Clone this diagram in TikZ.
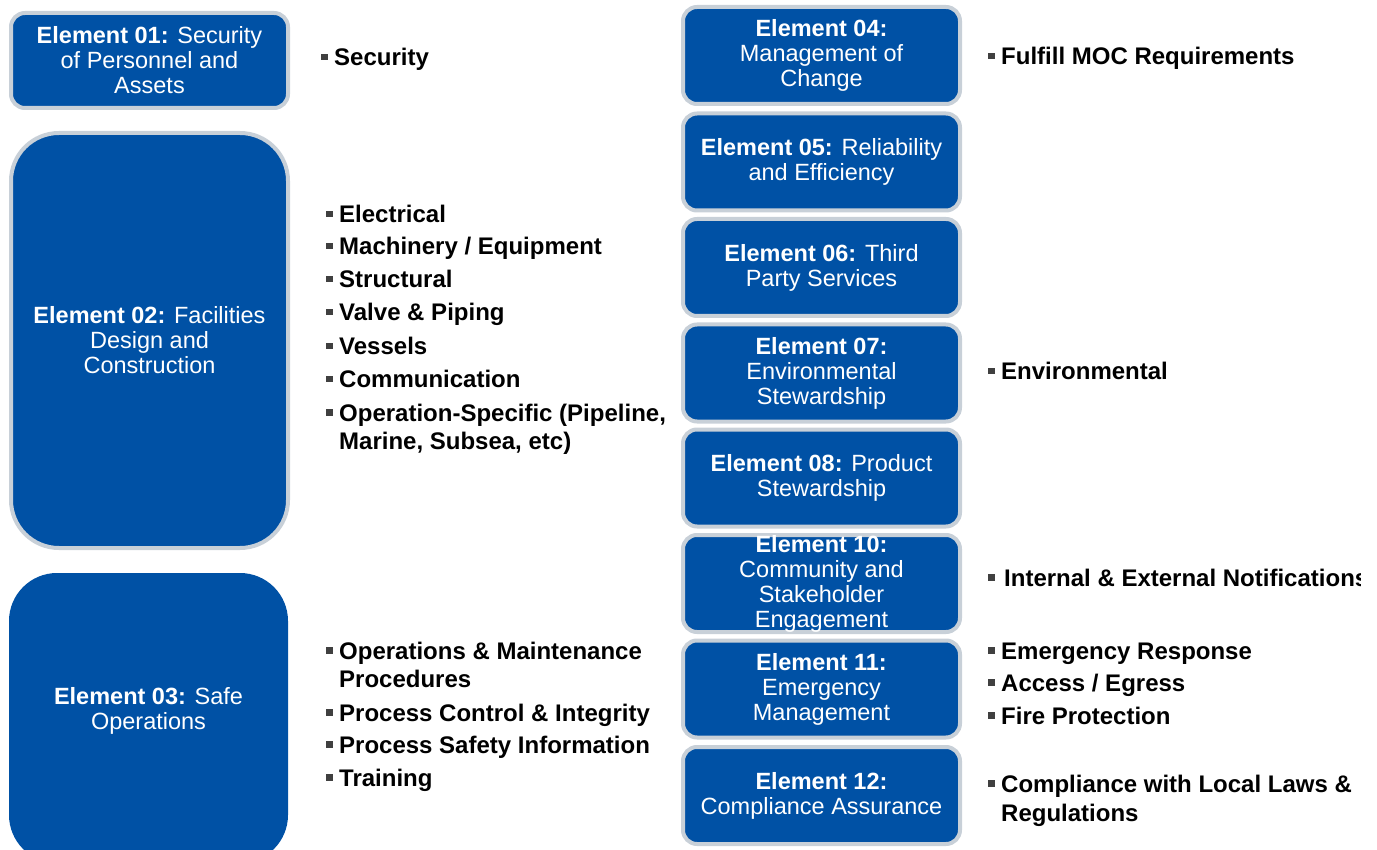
\documentclass[tikz,border=0pt]{standalone}
\usepackage{fontspec}
\setmainfont{Liberation Sans}
\definecolor{elblue}{RGB}{0,81,165}
\definecolor{elgrey}{RGB}{200,208,216}
\definecolor{bulgrey}{RGB}{64,64,64}
\newcommand{\bul}{\makebox[13pt][l]{\textcolor{bulgrey}{\rule[5.5pt]{6.5pt}{6.5pt}}}}
\newcommand{\bulb}{\makebox[16pt][l]{\textcolor{bulgrey}{\rule[5.5pt]{6.5pt}{6.5pt}}}}
\begin{document}
\begin{tikzpicture}[x=1pt,y=-1pt,
  elbox/.style={rectangle, rounded corners=14pt, fill=elblue, draw=elgrey, line width=4pt,
    text=white, align=center, inner sep=0pt, minimum width=277pt, minimum height=97pt,
    font=\fontsize{23.5}{25}\selectfont},
  bigbox/.style={elbox, rounded corners=48pt},
  item/.style={anchor=base west, inner sep=0pt, font=\bfseries\fontsize{24}{28}\selectfont}]
\useasboundingbox (0,0) rectangle (1377,850);
\clip (0,0) rectangle (1377,850);
% left column
\node[elbox, minimum height=95pt] (e01) at (149.5,60.5) {\textbf{Element 01:} Security\\of Personnel and\\Assets};
\node[bigbox, minimum height=415pt] (e02) at (149.5,340.5) {\textbf{Element 02:} Facilities\\Design and\\Construction};
\node[bigbox, draw=none, minimum width=279pt, minimum height=290pt] (e03) at (148.5,718) {};
\node[text=white, align=center, font=\fontsize{23.5}{25}\selectfont] (e03t) at (148.5,711) {\textbf{Element 03:} Safe\\Operations};
% right column
\node[elbox] (e04) at (821.5,55.5) {\textbf{Element 04:}\\Management of\\Change};
\node[elbox] (e05) at (821.5,162) {\textbf{Element 05:} Reliability\\and Efficiency};
\node[elbox] (e06) at (821.5,267.5) {\textbf{Element 06:} Third\\Party Services};
\node[elbox] (e07) at (821.5,373) {\textbf{Element 07:}\\Environmental\\Stewardship};
\node[elbox] (e08) at (821.5,478) {\textbf{Element 08:} Product\\Stewardship};
\node[elbox] (e10) at (821.5,583.5) {\textbf{Element 10:}\\Community and\\Stakeholder\\Engagement};
\node[elbox] (e11) at (821.5,689) {\textbf{Element 11:}\\Emergency\\Management};
\node[elbox] (e12) at (821.5,795.5) {\textbf{Element 12:}\\Compliance Assurance};
% middle bullets
\node[item] (s01) at (321,66) {\bul Security};
\node[item] (m1) at (326,223) {\bul Electrical};
\node[item] (m2) at (326,255) {\bul Machinery / Equipment};
\node[item] (m3) at (326,288) {\bul Structural};
\node[item] (m4) at (326,321) {\bul Valve \& Piping};
\node[item] (m5) at (326,355) {\bul Vessels};
\node[item] (m6) at (326,388) {\bul Communication};
\node[item] (m7) at (326,421) {\bul Operation-Specific (Pipeline,};
\node[item] (m7b) at (339,449) {Marine, Subsea, etc)};
\node[item] (o1) at (326,659) {\bul Operations \& Maintenance};
\node[item] (o1b) at (339,687) {Procedures};
\node[item] (o2) at (326,721) {\bul Process Control \& Integrity};
\node[item] (o3) at (326,753) {\bul Process Safety Information};
\node[item] (o4) at (326,786) {\bul Training};
% right bullets
\node[item] (r1) at (988,65) {\bul Fulfill MOC Requirements};
\node[item] (r2) at (988,380) {\bul Environmental};
\begin{scope}
\clip (900,540) rectangle (1360,620);
\node[item] (r3) at (988,586) {\bulb Internal \& External Notifications};
\end{scope}
\node[item] (r4) at (988,659) {\bul Emergency Response};
\node[item] (r5) at (988,691) {\bul Access / Egress};
\node[item] (r6) at (988,724) {\bul Fire Protection};
\node[item] (r7) at (988,792) {\bul Compliance with Local Laws \&};
\node[item] (r7b) at (1001,821) {Regulations};
\end{tikzpicture}
\end{document}
